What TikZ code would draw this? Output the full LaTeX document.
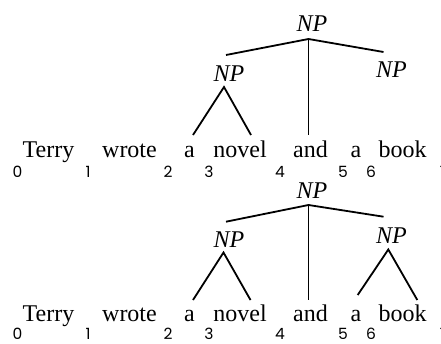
\documentclass[tikz,border=0pt]{standalone}
\usepackage{fontspec}
\setmainfont{Liberation Serif}
\newfontfamily\numfont{Poppins}
\begin{document}
\begin{tikzpicture}[x=1pt,y=-1pt,
  word/.style={anchor=base,inner sep=0pt,font=\fontsize{24}{28}\selectfont},
  cat/.style={anchor=base,inner sep=0pt,font=\fontsize{24}{28}\selectfont\itshape},
  num/.style={anchor=base,inner sep=0pt,font=\fontsize{15.5}{18}\selectfont\numfont},
  edge/.style={line width=1.8pt}]
\useasboundingbox (0,0) rectangle (441,343);
% ---------- top tree ----------
\foreach \w/\x/\n in {Terry/48.5/tA, wrote/129.5/tB, a/189.5/tC, novel/240/tD, and/310.5/tE, a/356/tF, book/402.5/tG}
  \node[word] (\n) at (\x,157) {\w};
\foreach \d/\x in {0/17.5,1/88,2/168,3/209,4/280,5/343,6/371,7/444}
  \node[num] (tn\d) at (\x,177) {\d};
\node[cat] (tNP) at (312,31.5) {NP};
\node[cat] (tNPl) at (229,81.7) {NP};
\node[cat] (tNPr) at (391.5,77.3) {NP};
\coordinate (ta) at (308.5,39);
\coordinate (tal) at (226,55);
\coordinate (tar) at (383.5,52);
\coordinate (tam) at (308.5,135);
\coordinate (tb) at (224,87);
\coordinate (tbl) at (193,135);
\coordinate (tbr) at (251,135);
\draw[edge] (tal) -- (ta) -- (tar);
\draw[edge] (ta) -- (tam);
\draw[edge] (tbl) -- (tb) -- (tbr);
% ---------- bottom tree ----------
\foreach \w/\x/\n in {Terry/48.5/bA, wrote/129.5/bB, a/189.5/bC, novel/240/bD, and/310.5/bE, a/356/bF, book/402.5/bG}
  \node[word] (\n) at (\x,321.7) {\w};
\foreach \d/\x in {0/17.5,1/88,2/168,3/209,4/280,5/343,6/371,7/444}
  \node[num] (bn\d) at (\x,339.5) {\d};
\node[cat] (bNP) at (312,198.7) {NP};
\node[cat] (bNPl) at (229,247) {NP};
\node[cat] (bNPr) at (391.5,243.7) {NP};
\coordinate (ba) at (308.5,205);
\coordinate (bal) at (226,221.7);
\coordinate (bar) at (383.5,216.7);
\coordinate (bam) at (308.5,300);
\coordinate (bb) at (223.5,252.5);
\coordinate (bbl) at (193,300);
\coordinate (bbr) at (250.5,300);
\coordinate (bc) at (388.3,249.5);
\coordinate (bcl) at (357.7,295);
\coordinate (bcr) at (417.3,300);
\draw[edge] (bal) -- (ba) -- (bar);
\draw[edge] (ba) -- (bam);
\draw[edge] (bbl) -- (bb) -- (bbr);
\draw[edge] (bcl) -- (bc) -- (bcr);
\end{tikzpicture}
\end{document}
